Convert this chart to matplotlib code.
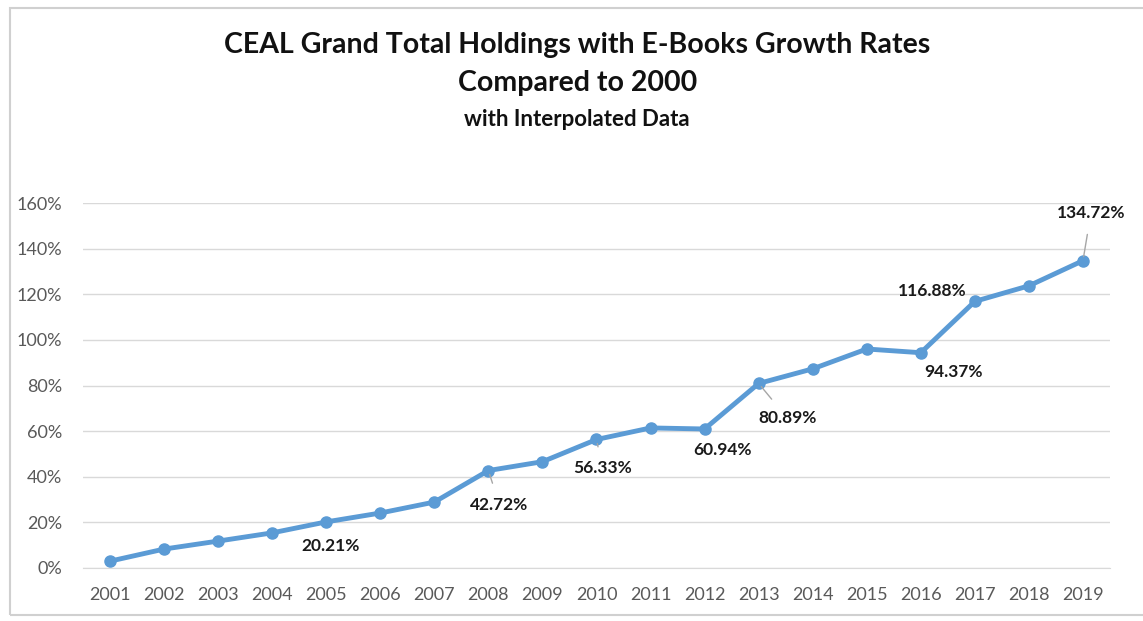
import matplotlib
matplotlib.use("Agg")
import matplotlib.pyplot as plt
from matplotlib.patches import Rectangle
from matplotlib.ticker import FuncFormatter

years = [str(y) for y in range(2001, 2020)]
growth = [3.0, 8.3, 11.8, 15.4, 20.21, 24.1, 28.9, 42.72, 46.6, 56.33,
          61.4, 60.94, 80.89, 87.3, 96.0, 94.37, 116.88, 123.7, 134.72]

# labelled points: year -> (offset in pixels, leader line?)
labelled = {"2005": ((4, -24), False), "2008": ((11, -34), True),
            "2010": ((6, -29), True), "2012": ((18, -21), False),
            "2013": ((29, -35), True), "2016": ((33, -19), False),
            "2017": ((-43, 10), False), "2019": ((8, 48), True)}

plt.rcParams['font.family'] = ['Lato', 'DejaVu Sans']

fig = plt.figure(figsize=(11.43, 6.21), dpi=100)
ax = fig.add_axes([83 / 1143, 53 / 621, 1027 / 1143, 365 / 621])

# chart frame like the spreadsheet object border
fig.patches.append(Rectangle((10 / 1143, 6 / 621), 1.2, 607 / 621,
                             transform=fig.transFigure, fill=False,
                             edgecolor='#d0d0d0', linewidth=1.5))

x = list(range(len(years)))
vals = [v / 100 for v in growth]
ax.plot(x, vals, color='#5B9BD5', linewidth=3.5, marker='o', markersize=8,
        solid_joinstyle='round', zorder=3)

for i, (yr, v) in enumerate(zip(years, vals)):
    if yr not in labelled:
        continue
    off, leader = labelled[yr]
    ax.annotate("{:.2f}%".format(growth[i]), xy=(i, v), xytext=off,
                textcoords='offset pixels', ha='center', va='center',
                fontsize=12.5, fontweight='bold', color='#1a1a1a',
                arrowprops=dict(arrowstyle='-', color='#a6a6a6', lw=1,
                                shrinkA=8, shrinkB=3) if leader else None)

ax.set_xlim(-0.5, len(years) - 0.5)
ax.set_ylim(0, 1.6)
ax.set_yticks([i * 0.2 for i in range(9)])
ax.yaxis.set_major_formatter(FuncFormatter(lambda v, p: "{:.0f}%".format(v * 100)))
ax.set_xticks(x)
ax.set_xticklabels(years)
ax.grid(axis='y', color='#d9d9d9', linewidth=1)
ax.set_axisbelow(True)
for s in ['top', 'right', 'left']:
    ax.spines[s].set_visible(False)
ax.spines['bottom'].set_color('#d9d9d9')
ax.tick_params(axis='both', length=0, labelsize=13, colors='#595959')
ax.tick_params(axis='x', pad=14)
ax.tick_params(axis='y', pad=15)

fig.text(0.505, 1 - 45 / 621, "CEAL Grand Total Holdings with E-Books Growth Rates",
         ha='center', va='center', fontsize=20.5, fontweight='bold', color='#111111')
fig.text(0.505, 1 - 83 / 621, "Compared to 2000",
         ha='center', va='center', fontsize=20.5, fontweight='bold', color='#111111')
fig.text(0.505, 1 - 120 / 621, "with Interpolated Data",
         ha='center', va='center', fontsize=16, fontweight='bold', color='#111111')

fig.savefig("out.png", dpi=100, facecolor='white')
